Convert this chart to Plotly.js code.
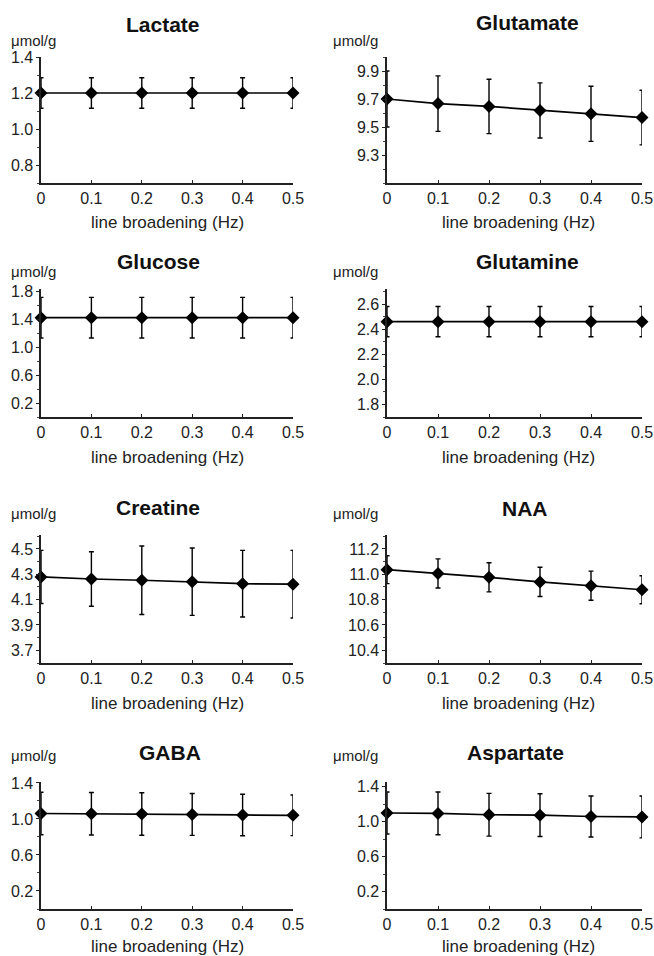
<!DOCTYPE html>
<html>
<head>
<meta charset="utf-8">
<script src="https://cdn.plot.ly/plotly-3.0.1.min.js"></script>
<style>html,body{margin:0;padding:0;background:#fff;}#chart{width:654px;height:956px;}</style>
</head>
<body>
<div id="chart"></div>
<script>
// ---- data ----
const lineBroadening = [0, 0.1, 0.2, 0.3, 0.4, 0.5];
const xTicks = [0, 0.1, 0.2, 0.3, 0.4, 0.5];
const xTickText = ["0", "0.1", "0.2", "0.3", "0.4", "0.5"];
const metabolites = ["Lactate", "Glutamate", "Glucose", "Glutamine", "Creatine", "NAA", "GABA", "Aspartate"];
const unitLabel = "\u03bcmol/g";
const xTitle = "line broadening (Hz)";

const lactate = [1.20, 1.20, 1.20, 1.20, 1.20, 1.20];
const lactateSD = [0.085, 0.085, 0.085, 0.085, 0.085, 0.085];
const lactateTicks = [0.8, 1.0, 1.2, 1.4];

const glutamate = [9.70, 9.667, 9.647, 9.618, 9.594, 9.567];
const glutamateSD = [0.20, 0.198, 0.194, 0.197, 0.197, 0.195];
const glutamateTicks = [9.3, 9.5, 9.7, 9.9];

const glucose = [1.42, 1.42, 1.42, 1.42, 1.42, 1.42];
const glucoseSD = [0.29, 0.29, 0.29, 0.29, 0.29, 0.29];
const glucoseTicks = [0.2, 0.6, 1.0, 1.4, 1.8];

const glutamine = [2.46, 2.46, 2.46, 2.46, 2.46, 2.46];
const glutamineSD = [0.12, 0.12, 0.12, 0.12, 0.12, 0.12];
const glutamineTicks = [1.8, 2.0, 2.2, 2.4, 2.6];

const creatine = [4.279, 4.263, 4.253, 4.242, 4.226, 4.222];
const creatineSD = [0.21, 0.215, 0.27, 0.266, 0.263, 0.267];
const creatineTicks = [3.7, 3.9, 4.1, 4.3, 4.5];

const naa = [11.036, 11.007, 10.976, 10.94, 10.91, 10.878];
const naaSD = [0.11, 0.115, 0.115, 0.115, 0.115, 0.11];
const naaTicks = [10.4, 10.6, 10.8, 11.0, 11.2];

const gaba = [1.06, 1.058, 1.054, 1.05, 1.044, 1.04];
const gabaSD = [0.236, 0.236, 0.236, 0.233, 0.23, 0.225];
const gabaTicks = [0.2, 0.6, 1.0, 1.4];

const aspartate = [1.10, 1.095, 1.08, 1.075, 1.06, 1.055];
const aspartateSD = [0.24, 0.245, 0.245, 0.245, 0.235, 0.24];
const aspartateTicks = [0.2, 0.6, 1.0, 1.4];

const seriesValues = [lactate, glutamate, glucose, glutamine, creatine, naa, gaba, aspartate];
const seriesSD = [lactateSD, glutamateSD, glucoseSD, glutamineSD, creatineSD, naaSD, gabaSD, aspartateSD];
const seriesTicks = [lactateTicks, glutamateTicks, glucoseTicks, glutamineTicks, creatineTicks, naaTicks, gabaTicks, aspartateTicks];

// ---- layout geometry (pixels) ----
const W = 654, H = 956;
const colX = [[41, 293], [387, 642]];
const rowY = [[57, 183], [289, 417], [535, 663], [782, 909]];
const yRanges = [[0.7, 1.4], [9.1, 10.0], [0, 1.83], [1.7, 2.72], [3.6, 4.61], [10.3, 11.31], [0, 1.41], [0, 1.455]];
const minorStep = [0.1, 0.1, 0.2, 0.1, 0.1, 0.1, 0.2, 0.2];
const titleX = [163, 527, 158, 527, 158, 525, 170, 515];
const titleY = [25, 23, 261, 262, 507, 508, 752, 752];
const unitY = [41, 41, 271, 271, 513, 513, 755, 755];
const xTitleOffset = [40, 40, 40, 37];

const FONT = "Liberation Sans, Arial, Helvetica, sans-serif";
const px = v => v / W;
const py = v => 1 - v / H;

const traces = [];
const layout = {
  width: W, height: H,
  margin: {l: 0, r: 0, t: 0, b: 0},
  paper_bgcolor: "#fff", plot_bgcolor: "#fff",
  showlegend: false,
  font: {family: FONT, color: "#222"},
  annotations: []
};

for (let i = 0; i < metabolites.length; i++) {
  const col = i % 2, row = Math.floor(i / 2);
  const n = i === 0 ? "" : String(i + 1);
  const xa = "x" + n, ya = "y" + n;
  traces.push({
    type: "scatter", mode: "lines+markers",
    x: lineBroadening, y: seriesValues[i],
    xaxis: xa, yaxis: ya,
    cliponaxis: false,
    line: {color: "#000", width: 1.7},
    marker: {symbol: "diamond", size: 10, color: "#000"},
    error_y: {type: "data", array: seriesSD[i], visible: true, color: "#000", thickness: 1.4, width: 2.5}
  });
  const [x0, x1] = colX[col];
  const [yt, yb] = rowY[row];
  layout["xaxis" + n] = {
    domain: [px(x0), px(x1)], anchor: ya,
    range: [0, 0.5], fixedrange: true,
    tickvals: xTicks, ticktext: xTickText,
    ticks: "inside", ticklen: 3, tickcolor: "#222", tickwidth: 1,
    showline: true, linecolor: "#222", linewidth: 1.6,
    showgrid: false, zeroline: false,
    tickfont: {family: FONT, size: 16, color: "#222"}
  };
  layout["yaxis" + n] = {
    domain: [py(yb), py(yt)], anchor: xa,
    range: yRanges[i], fixedrange: true,
    tickvals: seriesTicks[i], ticktext: seriesTicks[i].map(v => v.toFixed(1)),
    ticks: "outside", ticklen: 3, tickcolor: "#222", tickwidth: 1,
    minor: {dtick: minorStep[i], tick0: 0, ticks: "outside", ticklen: 2, tickcolor: "#444"},
    showline: true, linecolor: "#222", linewidth: 1.6,
    showgrid: false, zeroline: false,
    tickfont: {family: FONT, size: 16, color: "#222"}
  };
  layout.annotations.push({
    text: "<b>" + metabolites[i] + "</b>", xref: "paper", yref: "paper",
    x: px(titleX[i]), y: py(titleY[i]), xanchor: "center", yanchor: "middle",
    showarrow: false, font: {family: FONT, size: 21, color: "#111"}
  });
  layout.annotations.push({
    text: unitLabel, xref: "paper", yref: "paper",
    x: px(col === 0 ? 9 : 331), y: py(unitY[i]), xanchor: "left", yanchor: "middle",
    showarrow: false, font: {family: FONT, size: 15, color: "#222"}
  });
  layout.annotations.push({
    text: xTitle, xref: "paper", yref: "paper",
    x: px((x0 + x1) / 2 + (col === 0 ? 0 : 4)), y: py(yb + xTitleOffset[row]), xanchor: "center", yanchor: "middle",
    showarrow: false, font: {family: FONT, size: 17, color: "#222"}
  });
}

Plotly.newPlot("chart", traces, layout, {staticPlot: true, displayModeBar: false});
</script>
</body>
</html>
